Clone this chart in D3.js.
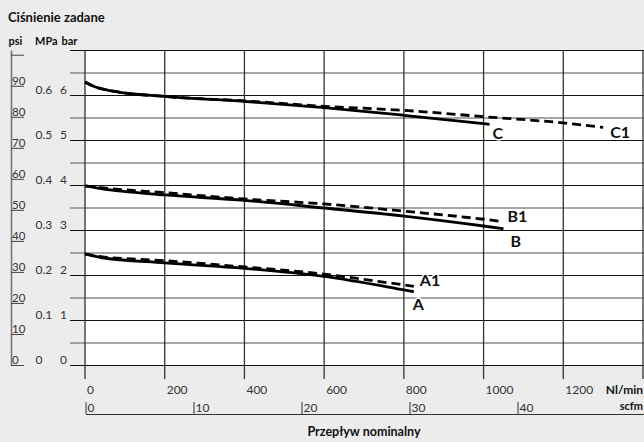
<!DOCTYPE html>
<html>
<head>
<meta charset="utf-8">
<script src="https://cdn.jsdelivr.net/npm/d3@7"></script>
<style>
  body { margin: 0; background: #ececec; }
  svg { display: block; font-family: Lato, "Noto Sans", sans-serif; }
</style>
</head>
<body>
<div id="chart"></div>
<script>
// flow in Nl/min, set pressure in bar
var flowC = [0, 20, 75, 200, 400, 600, 800, 1015];
var pressC = [6.30, 6.21, 6.09, 5.98, 5.87, 5.73, 5.56, 5.36];
var flowC1 = [0, 20, 75, 200, 400, 600, 800, 1000, 1200, 1300];
var pressC1 = [6.30, 6.21, 6.09, 5.98, 5.88, 5.76, 5.67, 5.53, 5.39, 5.29];
var flowB = [0, 40, 200, 400, 600, 800, 1000, 1050];
var pressB = [3.99, 3.93, 3.79, 3.67, 3.50, 3.32, 3.10, 3.04];
var flowB1 = [0, 40, 200, 400, 600, 800, 1000, 1045];
var pressB1 = [3.99, 3.95, 3.84, 3.70, 3.59, 3.43, 3.25, 3.20];
var flowA = [0, 40, 200, 400, 600, 800, 825];
var pressA = [2.48, 2.40, 2.28, 2.16, 1.98, 1.68, 1.64];
var flowA1 = [0, 40, 200, 400, 600, 800, 825];
var pressA1 = [2.48, 2.42, 2.33, 2.19, 2.03, 1.79, 1.76];

var flowTicks = [0, 200, 400, 600, 800, 1000, 1200];
var scfmTicks = [0, 10, 20, 30, 40];
var barTicks = [0, 1, 2, 3, 4, 5, 6];
var mpaTicks = ["0", "0.1", "0.2", "0.3", "0.4", "0.5", "0.6"];
var psiTicks = [0, 10, 20, 30, 40, 50, 60, 70, 80, 90, 100];

var width = 644;
var height = 442;

var series = [
  { name: "C", flow: flowC, press: pressC, dashed: false },
  { name: "C1", flow: flowC1, press: pressC1, dashed: true },
  { name: "B", flow: flowB, press: pressB, dashed: false },
  { name: "B1", flow: flowB1, press: pressB1, dashed: true },
  { name: "A", flow: flowA, press: pressA, dashed: false },
  { name: "A1", flow: flowA1, press: pressA1, dashed: true }
];

// label offsets from the end of each curve
var labelOffset = {
  C: [3, 15], C1: [7, 11], B: [7, 18], B1: [6, 0], A: [-1, 18], A1: [6, 0]
};

var x = d3.scaleLinear().domain([0, 1400]).range([85, 643]);
var y = d3.scaleLinear().domain([0, 7]).range([365.5, 50.5]);
var xScfm = d3.scaleLinear().domain([0, 40]).range([86, 518]);
var psiToBar = 0.0689476;

var svg = d3.select("#chart").append("svg").attr("width", width).attr("height", height);

svg.append("rect").attr("width", width).attr("height", height).attr("fill", "#ececec");

svg.append("rect")
  .attr("x", 86)
  .attr("y", y(7))
  .attr("width", width - 86)
  .attr("height", y(0) - y(7))
  .attr("fill", "#fff");

// half-bar grey lines
var halfs = d3.range(0.5, 7, 1);
svg.selectAll(".half")
  .data(halfs)
  .enter()
  .append("line")
  .attr("class", "half")
  .attr("x1", 70)
  .attr("x2", width)
  .attr("y1", function (d) { return y(d); })
  .attr("y2", function (d) { return y(d); })
  .attr("stroke", "#8a8a8a")
  .attr("stroke-width", 1.4);

svg.selectAll(".full")
  .data(d3.range(0, 8))
  .enter()
  .append("line")
  .attr("class", "full")
  .attr("x1", 70)
  .attr("x2", width)
  .attr("y1", function (d) { return y(d); })
  .attr("y2", function (d) { return y(d); })
  .attr("stroke", "#111")
  .attr("stroke-width", 1.1);

svg.selectAll(".vgrid")
  .data(flowTicks.concat([1400]))
  .enter()
  .append("line")
  .attr("class", "vgrid")
  .attr("x1", function (d) { return x(d); })
  .attr("x2", function (d) { return x(d); })
  .attr("y1", y(7))
  .attr("y2", 379)
  .attr("stroke", "#333")
  .attr("stroke-width", 1.3);

// bar and MPa labels
svg.selectAll(".barLabel")
  .data(barTicks)
  .enter()
  .append("text")
  .attr("x", 67)
  .attr("y", function (d) { return y(d) - 1.5; })
  .attr("text-anchor", "end")
  .attr("font-size", 12)
  .attr("fill", "#333")
  .text(function (d) { return d; });

svg.selectAll(".mpaLabel")
  .data(mpaTicks)
  .enter()
  .append("text")
  .attr("x", 35.5)
  .attr("y", function (d, i) { return y(barTicks[i]) - 1.5; })
  .attr("font-size", 12)
  .attr("fill", "#333")
  .text(function (d) { return d; });

// psi axis
svg.append("line")
  .attr("x1", 11.5).attr("x2", 11.5)
  .attr("y1", y(7)).attr("y2", y(0))
  .attr("stroke", "#777")
  .attr("stroke-width", 1.6);

svg.selectAll(".psiTick")
  .data(psiTicks)
  .enter()
  .append("line")
  .attr("x1", 11)
  .attr("x2", 24)
  .attr("y1", function (d) { return y(d * psiToBar); })
  .attr("y2", function (d) { return y(d * psiToBar); })
  .attr("stroke", "#444")
  .attr("stroke-width", 1);

svg.selectAll(".psiLabel")
  .data(psiTicks.slice(0, 10))
  .enter()
  .append("text")
  .attr("x", 12)
  .attr("y", function (d) { return y(d * psiToBar) - 1.5; })
  .attr("font-size", 11.5)
  .attr("fill", "#333")
  .text(function (d) { return d; });

// headers
svg.append("text").attr("x", 8).attr("y", 22).attr("font-size", 13).attr("font-weight", "bold")
  .attr("fill", "#111").text("Ciśnienie zadane");
svg.append("text").attr("x", 8.5).attr("y", 45).attr("font-size", 11).attr("font-weight", "bold")
  .attr("fill", "#111").text("psi");
svg.append("text").attr("x", 35).attr("y", 45).attr("font-size", 11).attr("font-weight", "bold")
  .attr("fill", "#111").text("MPa");
svg.append("text").attr("x", 61.5).attr("y", 45).attr("font-size", 11).attr("font-weight", "bold")
  .attr("fill", "#111").text("bar");

// flow tick labels
svg.selectAll(".flowLabel")
  .data(flowTicks)
  .enter()
  .append("text")
  .attr("x", function (d) { return x(d) + 2; })
  .attr("y", 394)
  .attr("font-size", 12)
  .attr("fill", "#333")
  .text(function (d) { return d; });

svg.append("text").attr("x", 643).attr("y", 394).attr("text-anchor", "end")
  .attr("font-size", 12).attr("font-weight", "bold").attr("fill", "#111").text("Nl/min");
svg.append("text").attr("x", 643).attr("y", 410).attr("text-anchor", "end")
  .attr("font-size", 11).attr("font-weight", "bold").attr("fill", "#111").text("scfm");

// scfm axis
svg.append("line")
  .attr("x1", 86).attr("x2", width)
  .attr("y1", 414.5).attr("y2", 414.5)
  .attr("stroke", "#333")
  .attr("stroke-width", 1);

svg.selectAll(".scfmTick")
  .data(scfmTicks)
  .enter()
  .append("line")
  .attr("x1", function (d) { return xScfm(d); })
  .attr("x2", function (d) { return xScfm(d); })
  .attr("y1", 402)
  .attr("y2", 414)
  .attr("stroke", "#333")
  .attr("stroke-width", 1);

svg.selectAll(".scfmLabel")
  .data(scfmTicks)
  .enter()
  .append("text")
  .attr("x", function (d) { return xScfm(d) + 1.5; })
  .attr("y", 412)
  .attr("font-size", 12)
  .attr("fill", "#333")
  .text(function (d) { return d; });

svg.append("text").attr("x", 364).attr("y", 436).attr("text-anchor", "middle")
  .attr("font-size", 12.5).attr("font-weight", "bold").attr("fill", "#111").text("Przepływ nominalny");

// curves
var line = d3.line()
  .x(function (d) { return x(d[0]); })
  .y(function (d) { return y(d[1]); })
  .curve(d3.curveMonotoneX);

series.forEach(function (s) {
  var pts = s.flow.map(function (f, i) { return [f, s.press[i]]; });
  svg.append("path")
    .attr("d", line(pts))
    .attr("fill", "none")
    .attr("stroke", "#000")
    .attr("stroke-width", 2.8)
    .attr("stroke-dasharray", s.dashed ? "9,5" : null);
});

series.forEach(function (s) {
  var n = s.flow.length - 1;
  var off = labelOffset[s.name];
  svg.append("text")
    .attr("x", x(s.flow[n]) + off[0])
    .attr("y", y(s.press[n]) + off[1])
    .attr("font-size", 16)
    .attr("font-weight", "bold")
    .attr("fill", "#111")
    .attr("stroke", "#fff")
    .attr("stroke-width", 3)
    .attr("paint-order", "stroke")
    .text(s.name);
});
</script>
</body>
</html>
